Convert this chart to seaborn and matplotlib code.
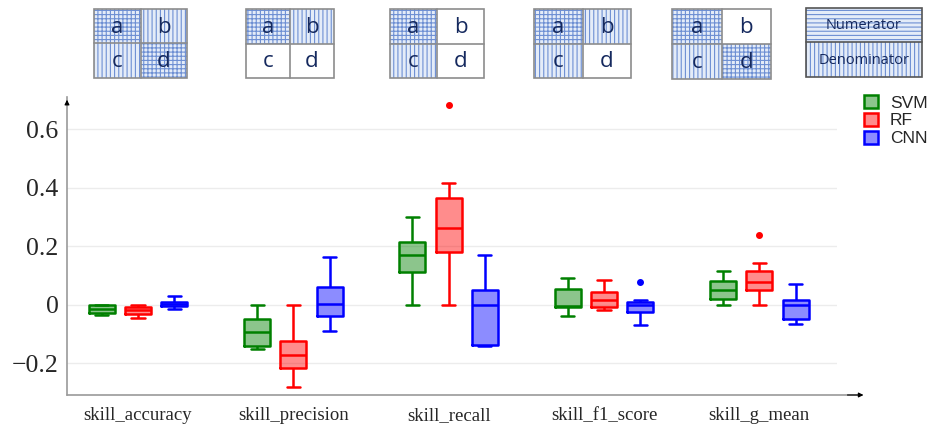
import numpy as np
import pandas as pd
import matplotlib
matplotlib.use("Agg")
import matplotlib.pyplot as plt
from matplotlib.patches import Rectangle, Patch
from matplotlib.lines import Line2D
import seaborn as sns

# categories and models
metrics = ["skill_accuracy", "skill_precision", "skill_recall", "skill_f1_score", "skill_g_mean"]
models = ["SVM", "RF", "CNN"]
model_colors = ["green", "red", "blue"]

# samples: whisker low, q1, q1, median, median, median, q3, q3/whisker, whisker/outlier
svm_values = [
    [-0.035, -0.028, -0.028, -0.014, -0.014, -0.014, 0.0, 0.0, 0.0],
    [-0.152, -0.142, -0.142, -0.095, -0.095, -0.095, -0.050, -0.050, 0.0],
    [0.0, 0.113, 0.113, 0.170, 0.170, 0.170, 0.214, 0.214, 0.301],
    [-0.040, -0.007, -0.007, -0.003, -0.003, -0.003, 0.054, 0.054, 0.090],
    [0.0, 0.021, 0.021, 0.050, 0.050, 0.050, 0.080, 0.080, 0.114],
]
rf_values = [
    [-0.047, -0.032, -0.032, -0.019, -0.019, -0.019, -0.009, -0.009, 0.0],
    [-0.280, -0.217, -0.217, -0.173, -0.173, -0.173, -0.123, -0.123, 0.0],
    [0.0, 0.179, 0.179, 0.263, 0.263, 0.263, 0.367, 0.415, 0.684],
    [-0.019, -0.009, -0.009, 0.015, 0.015, 0.015, 0.042, 0.042, 0.085],
    [0.0, 0.050, 0.050, 0.079, 0.079, 0.079, 0.116, 0.144, 0.239],
]
cnn_values = [
    [-0.016, -0.006, -0.006, 0.003, 0.003, 0.003, 0.011, 0.011, 0.030],
    [-0.091, -0.038, -0.038, 0.003, 0.003, 0.003, 0.060, 0.060, 0.162],
    [-0.142, -0.138, -0.138, 0.0, 0.0, 0.0, 0.051, 0.051, 0.169],
    [-0.069, -0.025, -0.025, 0.0, 0.0, 0.0, 0.011, 0.015, 0.079],
    [-0.067, -0.048, -0.048, -0.002, -0.002, -0.002, 0.016, 0.016, 0.072],
]
yticks = [-0.2, 0, 0.2, 0.4, 0.6]
ytick_labels = ["\u22120.2", "0", "0.2", "0.4", "0.6"]

# confusion-matrix sketches above the chart (cells a, b, c, d)
sketch_cells = [
    ["grid", "vert", "vert", "grid"],
    ["grid", "vert", None, None],
    ["grid", None, "vert", None],
    ["grid", "vert", "vert", None],
    ["grid", None, "vert", "grid"],
]
sketch_letters = ["a", "b", "c", "d"]

rows = []
for model, vals in zip(models, [svm_values, rf_values, cnn_values]):
    for metric, v in zip(metrics, vals):
        for x in v:
            rows.append({"metric": metric, "model": model, "value": x})
df = pd.DataFrame(rows)

sns.set_style("white")
plt.rcParams["hatch.linewidth"] = 0.8

fig = plt.figure(figsize=(9.31, 4.25), dpi=100)
ax = fig.add_axes([67 / 931, 30 / 425, 770 / 931, 298 / 425])

palette = dict(zip(models, model_colors))
# filled boxes, translucent
sns.boxplot(data=df, x="metric", y="value", hue="model", order=metrics, hue_order=models,
            palette=palette, saturation=1, width=0.7, gap=0.28, linewidth=0,
            showfliers=False, boxprops={"alpha": 0.45}, legend=False, ax=ax)
# outlines, whiskers, medians and outliers in the model colour
sns.boxplot(data=df, x="metric", y="value", hue="model", order=metrics, hue_order=models,
            palette=palette, saturation=1, width=0.7, gap=0.28, linewidth=1.8, fill=False,
            flierprops={"marker": "o", "markersize": 4}, legend=False, ax=ax)
for line in ax.lines:
    if line.get_marker() == "o":
        line.set_markerfacecolor(line.get_markeredgecolor())

ax.set_xlim(-0.457, 4.50)
ax.set_ylim(-0.309, 0.711)
ax.set_yticks(yticks)
ax.set_yticklabels(ytick_labels, family="Liberation Serif", fontsize=18.5)
ax.set_xticks(range(len(metrics)))
ax.set_xticklabels(metrics, family="Liberation Serif", fontsize=13.5)
ax.tick_params(axis="both", length=0)
ax.tick_params(axis="y", pad=6)
ax.tick_params(axis="x", pad=9)
ax.set_xlabel("")
ax.set_ylabel("")
ax.yaxis.grid(True, color="#ececec", linewidth=1)
ax.set_axisbelow(True)
for s in ["top", "right", "bottom"]:
    ax.spines[s].set_visible(False)
ax.spines["left"].set_color("#9a9a9a")
ax.spines["left"].set_linewidth(1.2)
ax.add_line(Line2D([0, 1.03], [0, 0], transform=ax.transAxes, color="#9a9a9a",
                   lw=1.2, clip_on=False))
ax.annotate("", xy=(0, 1.0), xytext=(0, 0.97), xycoords="axes fraction",
            arrowprops=dict(arrowstyle="-|>", color="black", lw=0.8, mutation_scale=7))
ax.annotate("", xy=(1.038, 0), xytext=(1.01, 0), xycoords="axes fraction",
            arrowprops=dict(arrowstyle="-|>", color="black", lw=0.8, mutation_scale=7))

# legend
handles = [Patch(facecolor=matplotlib.colors.to_rgba(c, 0.45), edgecolor=c, linewidth=1.8)
           for c in model_colors]
fig.legend(handles, models, loc="upper left", bbox_to_anchor=(864 / 931, 1 - 95 / 425),
           frameon=False, prop={"family": "Liberation Sans", "size": 12.5},
           handlelength=0.8, handleheight=0.8, labelspacing=0.12, handletextpad=0.7,
           borderaxespad=0, borderpad=0)

# sketches
over = fig.add_axes([0, 0, 1, 1])
over.set_xlim(0, 931)
over.set_ylim(425, 0)
over.axis("off")
hatch_fill = "#e4ecf8"
hatch_col = "#6d8fd3"
border_col = "#8c8c8c"
navy = "#15295e"
boxes = [(94, 187, 9, 77.5), (246, 334, 9, 78), (390, 484, 9, 78), (534, 631, 9, 78), (672, 771, 9, 78.5)]
for (l, r, t, b), cells in zip(boxes, sketch_cells):
    mx, my = (l + r) / 2, (t + b) / 2
    spans = [(l, mx, t, my), (mx, r, t, my), (l, mx, my, b), (mx, r, my, b)]
    for (x0, x1, y0, y1), kind, letter in zip(spans, cells, sketch_letters):
        if kind is not None:
            hatch = "++++" if kind == "grid" else "||||"
            over.add_patch(Rectangle((x0, y0), x1 - x0, y1 - y0, facecolor=hatch_fill,
                                     edgecolor=hatch_col, linewidth=0, hatch=hatch))
        over.text((x0 + x1) / 2, (y0 + y1) / 2 + 1, letter, ha="center", va="center",
                  color=navy, fontsize=16, family="Open Sans")
    over.add_patch(Rectangle((l, t), r - l, b - t, fill=False, edgecolor=border_col, linewidth=1.2))
    over.plot([mx, mx], [t, b], color=border_col, lw=1.2)
    over.plot([l, r], [my, my], color=border_col, lw=1.2)

l, r, t, b = 806, 922, 7.5, 76.5
my = (t + b) / 2
over.add_patch(Rectangle((l, t), r - l, my - t, facecolor=hatch_fill, edgecolor=hatch_col,
                         linewidth=0, hatch="----"))
over.add_patch(Rectangle((l, my), r - l, b - my, facecolor=hatch_fill, edgecolor=hatch_col,
                         linewidth=0, hatch="||||"))
over.add_patch(Rectangle((l, t), r - l, b - t, fill=False, edgecolor="#555555", linewidth=1.2))
over.plot([l, r], [my, my], color="#555555", lw=1.2)
over.text((l + r) / 2, (t + my) / 2 + 1, "Numerator", ha="center", va="center",
          color=navy, fontsize=10.5, family="Open Sans")
over.text((l + r) / 2, (my + b) / 2 + 1, "Denominator", ha="center", va="center",
          color=navy, fontsize=10.5, family="Open Sans")

fig.savefig("out.png", dpi=100)
